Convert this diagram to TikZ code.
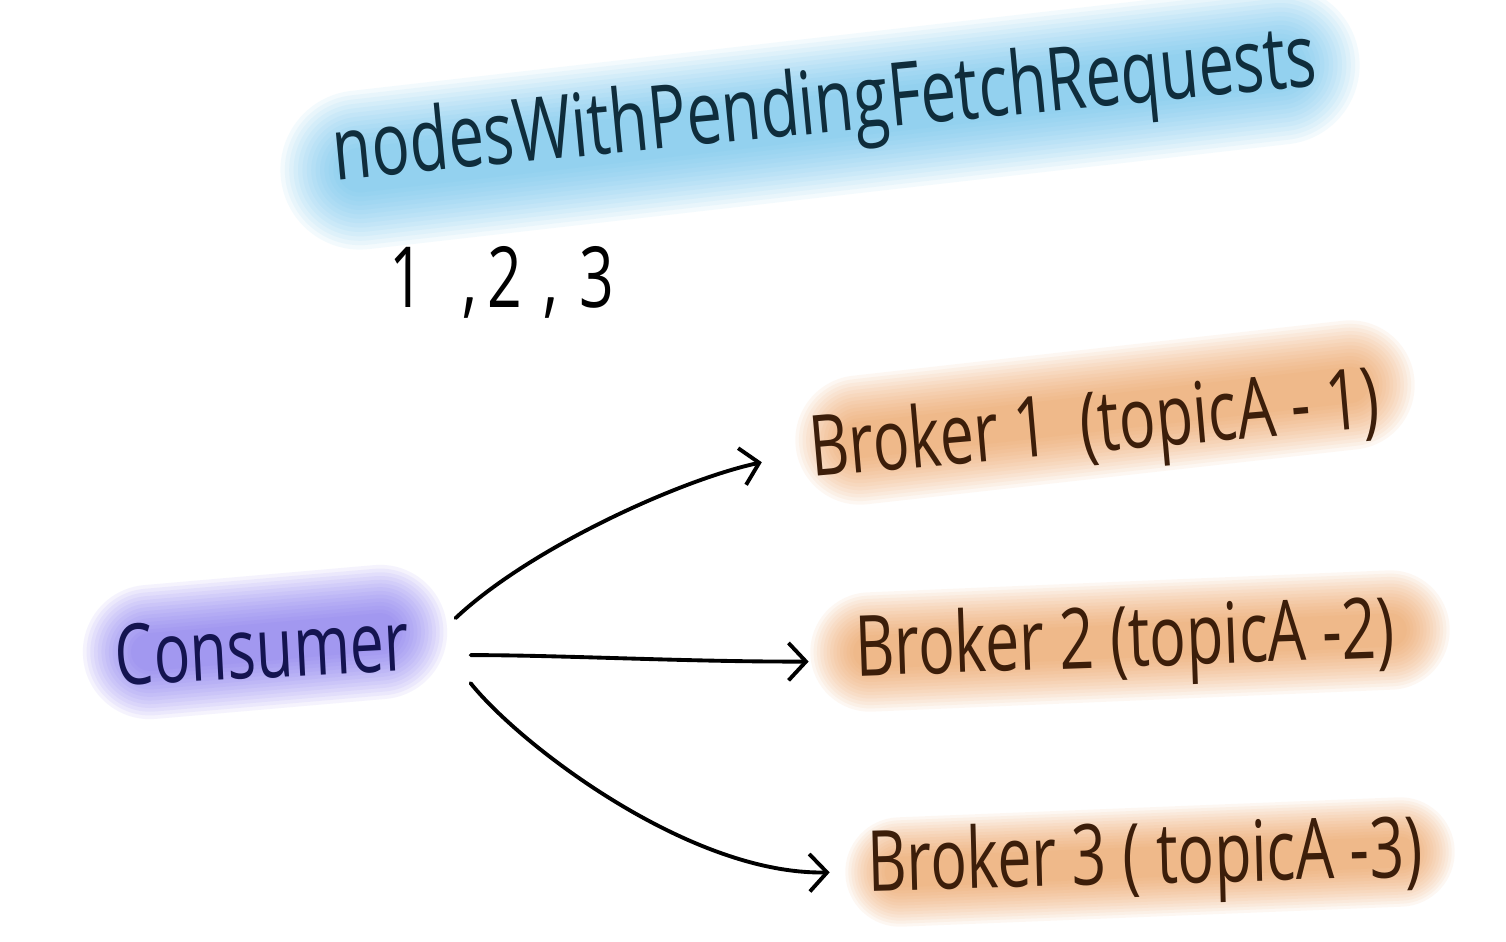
\documentclass[tikz,border=0pt]{standalone}
\usepackage{fontspec}
\usepackage{xcolor}
\usetikzlibrary{arrows.meta,positioning}
\newfontfamily\handfont[FakeStretch=0.72]{Open Sans}
\newfontfamily\plainhand{Open Sans}
\definecolor{TitleInk}{HTML}{0F2D3C}
\definecolor{ConsumerInk}{HTML}{141450}
\definecolor{BrokerInk}{HTML}{3C1E0A}
\definecolor{SkyMark}{HTML}{62C0EE}
\definecolor{VioletMark}{HTML}{7A6AF0}
\definecolor{AmberMark}{HTML}{EE9A55}
% soft highlighter stroke: colour, from, to, thickness (px)
\newcommand{\markstroke}[4]{%
  \foreach \k in {1,...,14}{
    \pgfmathsetlengthmacro{\markw}{#4*0.569pt*(1.05-0.055*\k)}
    \draw[#1,line width=\markw,line cap=round,opacity=0.075] #2 -- #3;
  }}
\tikzset{
  sketch/.style={x=0.02cm,y=-0.02cm,font=\handfont\fontsize{48}{56}\selectfont},
  label/.style={inner sep=2pt,anchor=center},
  title/.style={label,text=TitleInk,font=\plainhand\fontsize{50}{58}\selectfont},
  consumer/.style={label,text=ConsumerInk},
  broker/.style={label,text=BrokerInk},
  stroke/.style={-{Straight Barb[length=3.5mm,width=7.5mm]},line width=2.2pt,line cap=round,draw=black},
}

\begin{document}
\begin{tikzpicture}[sketch]
  \fill[white] (0,0) rectangle (1506,942);
  \useasboundingbox (0,0) rectangle (1506,942);

  % highlighter marks
  \markstroke{SkyMark}{(360,170)}{(1280,65)}{160}
  \markstroke{VioletMark}{(150,652)}{(380,632)}{135}
  \markstroke{AmberMark}{(860,440)}{(1350,385)}{130}
  \markstroke{AmberMark}{(870,652)}{(1390,630)}{120}
  \markstroke{AmberMark}{(900,872)}{(1400,852)}{110}

  \node[title,rotate=5.5] (heading) at (825,110) {\scalebox{0.72}[1]{nodesWithPendingFetchRequests}};
  \node[label,text=black] (ids) at (502,282) {1\hspace{0.45em},\hspace{0.12em}2\hspace{0.25em},\hspace{0.25em}3};

  \node[consumer,rotate=3] (cons) at (262,648) {Consumer};
  \node[broker,rotate=5] (b1) at (1095,430) {Broker 1 \ (topicA - 1)};
  \node[broker,rotate=2] (b2) at (1125,645) {Broker 2 (topicA -2)};
  \node[broker,rotate=1.5] (b3) at (1145,862) {Broker 3 ( topicA -3)};

  \draw[stroke] ([shift={(43,-22)}]cons.east) .. controls (530,548) and (680,480) .. ([shift={(-45,7)}]b1.west);
  \draw[stroke] ([shift={(58,15)}]cons.east) .. controls (560,655) and (690,662) .. ([shift={(-43,7)}]b2.west);
  \draw[stroke] ([shift={(58,43)}]cons.east) .. controls (520,745) and (690,875) .. ([shift={(-34,3)}]b3.west);
\end{tikzpicture}
\end{document}
